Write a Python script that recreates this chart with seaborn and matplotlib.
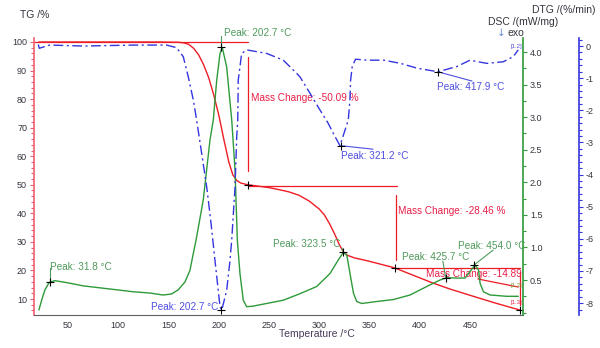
import numpy as np
import pandas as pd
import matplotlib
matplotlib.use("Agg")
import matplotlib.pyplot as plt
from matplotlib.ticker import MultipleLocator, FixedLocator
import seaborn as sns

# ---------------- data ----------------
tg_temp = [21, 60, 100, 140, 160, 165, 170, 175, 180, 185, 190, 195, 200, 205, 210, 214,
           218, 222, 229, 240, 250, 260, 270, 280, 290, 300, 305, 310, 315, 320, 324, 328,
           335, 350, 375, 390, 413, 430, 450, 475, 500]
tg_val = [100, 100, 100, 100, 99.9, 99.7, 99.2, 97.8, 95.5, 92, 87.5, 81.5, 74.5, 66, 58, 53.5,
          51.5, 50.6, 50.0, 49.5, 49.0, 48.3, 47.5, 46.3, 44.3, 41.5, 39.5, 36.5, 33, 29, 26.5, 25.3,
          24.4, 23.2, 20.9, 18.8, 15.6, 13.5, 11.3, 8.6, 6.1]

dsc_temp = [21.1, 23.8, 27.1, 31.4, 37, 48.7, 65.2, 81.8, 98.4, 114.7, 131.6, 144.5, 153, 159.7,
            166.4, 171.4, 174.7, 177.4, 184.6, 191.3, 194.6, 198, 201.3, 203.5, 207.9, 212.9,
            216.2, 218.5, 221.1, 224.4, 227.8, 234.4, 247.7, 264.2, 280.8, 297.4, 310.7, 319,
            324, 327.4, 330.6, 334, 337.3, 342.3, 357.2, 373.7, 390.3, 406.9, 420.1, 426.8,
            436.7, 445, 450, 455, 458.5, 460, 463.3, 470, 486.5, 498]
dsc_val = [0.04, 0.19, 0.35, 0.465, 0.49, 0.46, 0.41, 0.38, 0.35, 0.32, 0.30, 0.27, 0.285, 0.35,
           0.47, 0.65, 0.91, 1.11, 1.73, 2.65, 2.96, 3.57, 3.98, 4.07, 3.77, 2.96,
           2.19, 1.11, 0.60, 0.19, 0.09, 0.10, 0.14, 0.19, 0.29, 0.40, 0.60, 0.81,
           0.925, 0.88, 0.60, 0.30, 0.17, 0.14, 0.17, 0.20, 0.27, 0.40, 0.50, 0.535,
           0.53, 0.53, 0.63, 0.73, 0.65, 0.45, 0.32, 0.27, 0.25, 0.25]

dtg_temp = [20.5, 21.4, 31.8, 65, 115, 148, 158, 164.7, 169.7, 174.7, 178, 183, 188, 192, 196,
            201.3, 203, 207.9, 211.2, 212.9, 216.2, 217.9, 218.9, 219.4, 222.8, 227.8, 247.7,
            264.2, 277.5, 280.8, 290.8, 300.7, 309, 314, 320.6, 325.6, 328.9, 330.5, 331.2,
            332.8, 336.1, 347.7, 364.3, 380.8, 397.4, 417.9, 436.8, 450, 466.6, 483.1, 493, 498]
dtg_val = [0.05, -0.07, 0.03, 0.0, 0.03, 0.03, -0.05, -0.33, -0.96, -1.68, -2.3, -3.34, -4.38,
           -5.42, -6.6, -8.12, -8.22, -7.6, -6.67, -6.04, -4.38, -2.82, -2.3, -1.06, -0.23,
           -0.12, -0.23, -0.44, -0.85, -0.96, -1.47, -1.99, -2.41, -2.72, -3.10, -2.62, -2.3,
           -1.68, -1.06, -0.64, -0.41, -0.44, -0.44, -0.54, -0.69, -0.80, -0.64, -0.44, -0.54,
           -0.49, -0.33, -0.12]

x_ticks = [50, 100, 150, 200, 250, 300, 350, 400, 450]
tg_ticks = [10, 20, 30, 40, 50, 60, 70, 80, 90, 100]
dsc_ticks = [0.5, 1.0, 1.5, 2.0, 2.5, 3.0, 3.5, 4.0]
dtg_ticks = [0, -1, -2, -3, -4, -5, -6, -7, -8]

dsc_peaks_t = [31.8, 202.7, 323.5, 425.7, 454.0]
dsc_peaks_v = [0.465, 4.07, 0.925, 0.535, 0.73]
dtg_peaks_t = [202.7, 321.2, 417.9]
dtg_peaks_v = [-8.22, -3.10, -0.80]
mass_changes = [-50.09, -28.46, -14.89]

# ---------------- style ----------------
sns.set_style("white")
plt.rcParams['font.family'] = ['Liberation Sans', 'DejaVu Sans']
plt.rcParams['axes.unicode_minus'] = False

RED = '#ee1c25'
RED_T = '#e8204a'
GREEN = '#2e9a3a'
GREEN_T = '#4f9a5c'
BLUE = '#3535e0'
BLUE_T = '#4f4fe0'
TXT = '#34343f'

fig = plt.figure(figsize=(6, 3.48), dpi=100)
ax = fig.add_axes([34/600, 33/348, 489/600, 277/348])
ax2 = ax.twinx()
ax3 = ax.twinx()

tg_df = pd.DataFrame({'T': tg_temp, 'v': tg_val})
dsc_df = pd.DataFrame({'T': dsc_temp, 'v': dsc_val})
dtg_df = pd.DataFrame({'T': dtg_temp, 'v': dtg_val})

sns.lineplot(data=tg_df, x='T', y='v', ax=ax, color=RED, lw=1.0, sort=False, estimator=None)
sns.lineplot(data=dsc_df, x='T', y='v', ax=ax2, color=GREEN, lw=1.0, sort=False, estimator=None)
sns.lineplot(data=dtg_df, x='T', y='v', ax=ax3, color=BLUE, lw=1.0, sort=False, estimator=None,
             linestyle=(0, (7, 2.5, 1.5, 2.5)))

ax.set_xlim(16.2, 502.7)
ax.set_ylim(4.4, 101.4)
ax2.set_ylim(-0.037, 4.215)
ax3.set_ylim(-8.37, 0.25)

# axes styling
for a in (ax, ax2, ax3):
    a.set_xlabel('')
    a.set_ylabel('')
    a.spines['top'].set_visible(False)
ax.spines['right'].set_visible(False)
ax.spines['left'].set_color('#f06070')
ax.spines['left'].set_linewidth(1.2)
ax.spines['bottom'].set_color('#606060')
ax2.spines['left'].set_visible(False)
ax2.spines['bottom'].set_visible(False)
ax2.spines['right'].set_color(GREEN)
ax2.spines['right'].set_linewidth(1.2)
ax3.spines['left'].set_visible(False)
ax3.spines['bottom'].set_visible(False)
ax3.spines['right'].set_position(('outward', 40))
ax3.spines['right'].set_color(BLUE)
ax3.spines['right'].set_linewidth(1.2)

ax.xaxis.set_major_locator(FixedLocator(x_ticks))
ax.xaxis.set_minor_locator(MultipleLocator(25))
ax.yaxis.set_major_locator(FixedLocator(tg_ticks))
ax.yaxis.set_minor_locator(MultipleLocator(2))
ax2.yaxis.set_major_locator(FixedLocator(dsc_ticks))
ax2.yaxis.set_minor_locator(MultipleLocator(0.25))
ax3.yaxis.set_major_locator(FixedLocator(dtg_ticks))
ax3.yaxis.set_minor_locator(MultipleLocator(0.2))
ax2.set_yticklabels([f'{t:.1f}' for t in dsc_ticks])
ax3.set_yticklabels([f'{t:d}' for t in dtg_ticks])

ax.tick_params(axis='x', which='both', direction='out', colors='#606060', labelcolor=TXT,
               labelsize=6.5, length=3, width=0.8, pad=1)
ax.tick_params(axis='x', which='minor', length=2)
ax.tick_params(axis='y', which='both', direction='out', colors='#f06070', labelcolor=TXT,
               labelsize=6.5, length=3, width=0.8, pad=2)
ax.tick_params(axis='y', which='minor', length=2)
ax2.tick_params(axis='y', which='both', direction='out', colors=GREEN, labelcolor=TXT,
                labelsize=6.5, length=3, width=0.8, pad=2)
ax2.tick_params(axis='y', which='minor', length=2)
ax3.tick_params(axis='y', which='both', direction='out', colors=BLUE, labelcolor=TXT,
                labelsize=6.5, length=3, width=0.8, pad=2)
ax3.tick_params(axis='y', which='minor', length=2)

FS = 7.2
# ---- DSC peaks ----
ax2.plot(dsc_peaks_t, dsc_peaks_v, linestyle='none', marker='+', color='black', ms=6, mew=0.8, zorder=5)
dsc_lbl = [(dsc_peaks_t[0], 0.68, 32.0, 0.70, 'left'),
           (dsc_peaks_t[1], 4.25, 205.0, 4.29, 'left'),
           (322.5, 0.99, 321.0, 1.05, 'right'),
           (423.0, 0.79, 382.3, 0.85, 'left'),
           (473.0, 0.96, 438.0, 1.02, 'left')]
for (pt, pv), (lx, ly, tx, ty, ha) in zip(zip(dsc_peaks_t, dsc_peaks_v), dsc_lbl):
    ax2.plot([pt, lx], [pv, ly], color=GREEN_T, lw=0.8, clip_on=False)
    ax2.text(tx, ty, f'Peak: {pt:.1f} °C', color=GREEN_T, fontsize=FS, ha=ha, va='center', clip_on=False)

# ---- DTG peaks ----
ax3.plot(dtg_peaks_t, dtg_peaks_v, linestyle='none', marker='+', color='black', ms=6, mew=0.8, zorder=5)
ax3.text(199.3, -8.13, f'Peak: {dtg_peaks_t[0]:.1f} °C', color=BLUE_T, fontsize=FS, ha='right', va='center')
ax3.plot([dtg_peaks_t[1], 353.5], [dtg_peaks_v[1], -3.21], color=BLUE_T, lw=0.8)
ax3.text(321.6, -3.42, f'Peak: {dtg_peaks_t[1]:.1f} °C', color=BLUE_T, fontsize=FS, ha='left', va='center')
ax3.plot([dtg_peaks_t[2], 452.0], [dtg_peaks_v[2], -1.09], color=BLUE_T, lw=0.8)
ax3.text(417.0, -1.27, f'Peak: {dtg_peaks_t[2]:.1f} °C', color=BLUE_T, fontsize=FS, ha='left', va='center')

# ---- TG mass changes ----
ax.plot([16.2, 229.1], [100, 100], color=RED, lw=0.9)
ax.plot([229.1, 229.1], [94.9, 54.9], color=RED, lw=0.9)
ax.text(232, 80.5, f'Mass Change: {mass_changes[0]:.2f} %', color=RED_T, fontsize=FS, va='center')
ax.plot([229.1, 377], [49.6, 49.6], color=RED, lw=0.9)
ax.plot([376.4, 376.4], [46.5, 23.7], color=RED, lw=0.9)
ax.text(378.4, 40.9, f'Mass Change: {mass_changes[1]:.2f} %', color=RED_T, fontsize=FS, va='center')
ax.plot([375, 500], [20.9, 20.9], color=RED, lw=0.9)
ax.plot([500, 500], [19.5, 8.0], color=RED, lw=0.9)
ax.plot([458, 498], [17.0, 14.2], color=RED, lw=0.9)
ax.text(406, 18.8, f'Mass Change: {mass_changes[2]:.2f} %', color=RED_T, fontsize=FS, va='center', clip_on=True)
ax.plot([229.1, 375, 500], [50.0, 20.9, 6.1], linestyle='none', marker='+', color='black', ms=6, mew=0.8, zorder=5)

# small segment labels
ax3.text(496, 0.0, '[1.2]', color=BLUE_T, fontsize=4.3, ha='center', va='center')
ax2.text(496, 0.42, '[1.2]', color='#7a9a3a', fontsize=4.3, ha='center', va='center')
ax2.text(496, 0.16, '[1.3]', color=RED_T, fontsize=4.3, ha='center', va='center')

# ---- axis titles ----
fig.text(20/600, 1 - 15/348, 'TG /%', color=TXT, fontsize=7.5, ha='left', va='center')
fig.text(279/600, 1 - 334/348, 'Temperature /°C', color='#4a3a5a', fontsize=7.5, ha='left', va='center')
fig.text(488/600, 1 - 22/348, 'DSC /(mW/mg)', color=TXT, fontsize=7.5, ha='left', va='center')
fig.text(497/600, 1 - 33/348, '↓', color='#6a8ad0', fontsize=7.5, ha='left', va='center',
         family=['DejaVu Sans'])
fig.text(508/600, 1 - 33/348, 'exo', color=TXT, fontsize=7.5, ha='left', va='center')
fig.text(532/600, 1 - 10/348, 'DTG /(%/min)', color=TXT, fontsize=7.5, ha='left', va='center')

fig.savefig('out.png', dpi=100)
